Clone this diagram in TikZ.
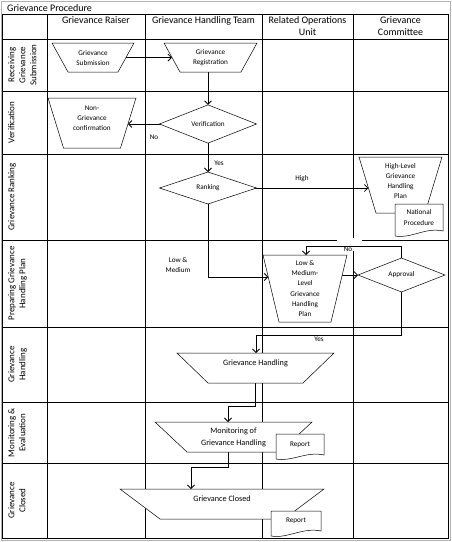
\documentclass[tikz,border=0pt]{standalone}
\usepackage{fontspec}
\setmainfont{Carlito}
\usetikzlibrary{shapes.geometric,arrows.meta,calc,backgrounds}
\newcommand\myS{\fontsize{7.2}{10.2}\selectfont}
\newcommand\myM{\fontsize{8.2}{12}\selectfont}
\newcommand\myL{\fontsize{9}{11}\selectfont}
\newcommand\myH{\fontsize{10}{11.7}\selectfont}
% manual-operation (inverted trapezium): name, cx, cy, w, h, offset, text-y, font, text
\newcommand\mkmanop[9]{%
  \filldraw[shapeline] ({#2-#4/2},{#3-#5/2}) -- ({#2+#4/2},{#3-#5/2}) -- ({#2+#4/2-#6},{#3+#5/2}) -- ({#2-#4/2+#6},{#3+#5/2}) -- cycle;
  \node[anchorbox, minimum width=#4pt, minimum height=#5pt] (#1) at (#2,#3) {};
  \node[shapetext, font=#8] (#1-t) at (#2,#7) {#9};
}
% document shape: name, x1, y1, x2, y2, dip, text
\newcommand\mkdoc[7]{%
  \filldraw[shapeline] (#2,#3) -- (#4,#3) -- (#4,#5) .. controls ({#4-18},{#5-4}) and ({#2+16},{#5+#6+3}) .. (#2,{#5+#6}) -- cycle;
  \node[shapetext] (#1) at ({(#2+#4)/2},{(#3+#5)/2}) {#7};
}
\begin{document}
\begin{tikzpicture}[x=1pt,y=-1pt,
  lane/.style={line width=0.6pt},
  outerframe/.style={draw=gray!60, line width=1pt},
  shapeline/.style={draw=black, fill=white, line width=0.5pt},
  anchorbox/.style={rectangle, draw=none, inner sep=0pt, outer sep=0pt},
  shapetext/.style={inner sep=0pt, align=center, font=\myS},
  dec/.style={diamond, draw, fill=white, line width=0.5pt, inner sep=0pt, outer sep=0pt, font=\myS},
  arr/.style={line width=0.8pt, -{Straight Barb[length=3.5pt,width=7pt]}},
  lbl/.style={font=\myS, inner sep=0.5pt, align=center},
  hdr/.style={font=\myH, align=center, anchor=north, inner sep=0pt},
  lanelbl/.style={font=\myL, align=center, rotate=90, anchor=north, inner sep=0pt},
]
\useasboundingbox (0,0) rectangle (452,542);
% frame and grid
\draw[outerframe] (1,1) rectangle (450,540);
\draw[lane] (2,14) rectangle (448,538);
\foreach \yy in {39,91,154,327,402,463} \draw[lane] (2,\yy) -- (448,\yy);
\draw[lane] (2,240) -- (337,240);
\draw[lane] (362,240) -- (448,240);
\foreach \xx in {47,145,262} \draw[lane] (\xx,14) -- (\xx,538);
\draw[lane] (353,14) -- (353,238);
\draw[lane] (353,251) -- (353,538);
\node[font=\myH, anchor=west, inner sep=0pt] (title) at (7,8) {Grievance Procedure};
% headers
\node[hdr] (h1) at (96,16.5) {Grievance Raiser};
\node[hdr] (h2) at (203.5,16.5) {Grievance Handling Team};
\node[hdr] (h3) at (307.5,16.5) {Related Operations\\Unit};
\node[hdr] (h4) at (400.5,16.5) {Grievance\\Committee};
% lane labels
\node[lanelbl] (l1) at (8,65) {Receiving\\Grievance\\Submission};
\node[lanelbl] (l2) at (8,122.5) {Verification};
\node[lanelbl] (l3) at (8,197) {Grievance Ranking};
\node[lanelbl] (l4) at (8,283.5) {Preparing Grievance\\Handling Plan};
\node[lanelbl] (l5) at (8,364.5) {Grievance\\Handling};
\node[lanelbl] (l6) at (8,432.5) {Monitoring \&\\Evaluation};
\node[lanelbl] (l7) at (8,500.5) {Grievance\\Closed};
% shapes
\mkmanop{sub}{93}{57.5}{82}{29}{16}{58}{\myS}{Grievance\\Submission}
\mkmanop{reg}{210.5}{57.5}{93}{29}{16}{57.5}{\myS}{Grievance\\Registration}
\node[dec, minimum width=97pt, minimum height=33pt] (ver) at (208,124) {Verification};
\mkmanop{ng}{92}{123}{88}{50}{15.5}{118}{\myS}{Non-\\Grievance\\confirmation}
\node[dec, minimum width=97pt, minimum height=32pt] (rank) at (208,188) {Ranking};
\mkmanop{hl}{400.5}{185}{83}{56}{17}{181}{\myS}{High-Level\\Grievance\\Handling\\Plan}
\mkdoc{natp}{395}{204}{443}{231}{5}{National\\Procedure}
\mkmanop{lm}{305}{288.5}{84}{67}{16}{288.5}{\myS}{Low \&\\Medium-\\Level\\Grievance\\Handling\\Plan}
\node[dec, minimum width=87pt, minimum height=34pt] (app) at (401.5,275) {Approval};
\mkmanop{gh}{255.5}{368}{157}{30}{31}{363}{\myM}{Grievance Handling}
\mkmanop{mon}{233.5}{437}{157}{30}{32}{437}{\myM}{Monitoring of\\Grievance Handling}
\mkdoc{rep1}{276}{434}{324}{455}{4}{Report}
\mkmanop{clo}{222}{504}{204}{30}{40}{499}{\myM}{Grievance Closed}
\mkdoc{rep2}{271}{511}{321}{531}{5}{Report}
% labels
\node[lbl] (lno1) at (154,137) {No};
\node[lbl] (lyes1) at (219,163) {Yes};
\node[lbl] (lhigh) at (302,179) {High};
\node[lbl] (llm) at (178,265) {Low \&\\Medium};
\node[lbl] (lno2) at (348,249) {No};
\node[lbl] (lyes2) at (319,339) {Yes};
% connectors
\begin{pgfonlayer}{background}
\draw[arr] (sub.center) -- ($(reg.center)+(-38.5,0)$);
\draw[arr] (reg.center -| ver.center) -- (ver.north);
\draw[arr] (ver.center) -- ($(ng.center)+(35.9,1)$);
\draw[arr] (ver) -- (rank);
\draw[arr] (rank.center) -- ($(hl.center)+(-32.1,3)$);
\draw[arr] (rank.center) |- ($(lm.center)+(-36.7,-11.5)$);
\draw[arr] (lm.center |- app.center) -- (app.west);
\draw[arr] (app.center) |- ($(lm.north)+(1,-8.5)$) -- ($(lm.north)+(1,0)$);
\draw[arr] (app.center) |- ($(gh.north)+(0.5,-18)$) -- ($(gh.north)+(0.5,0)$);
\draw[arr] (gh.center) |- ($(mon.north)+(-5.5,-16)$) -- ($(mon.north)+(-5.5,0)$);
\draw[arr] ($(mon.center)+(-5.5,0)$) |- ($(clo.north)+(-31,-22)$) -- ($(clo.north)+(-31,0)$);
\end{pgfonlayer}
\end{tikzpicture}
\end{document}
